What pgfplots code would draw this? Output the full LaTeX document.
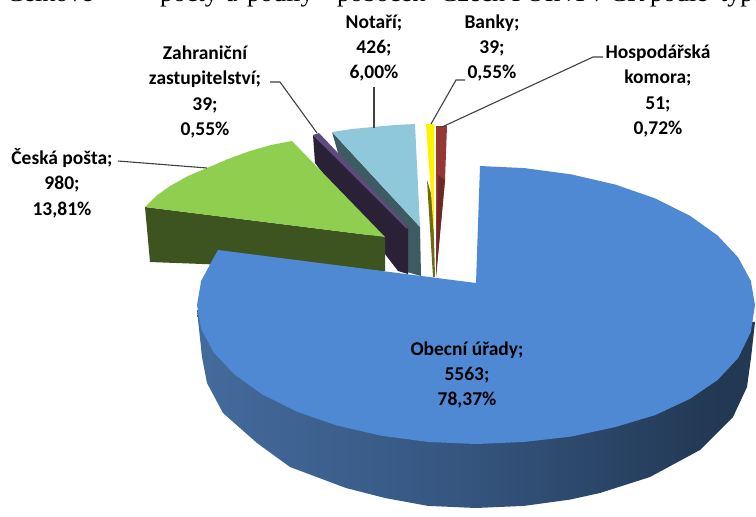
\documentclass[border=0pt]{standalone}
\usepackage{pgfplots}
\pgfplotsset{compat=1.18}
\usepackage{fontspec}
\setmainfont{Carlito}
\newfontfamily\timesf{Liberation Serif}
\definecolor{bluetop}{HTML}{5089D3}
\definecolor{greentop}{HTML}{90CE50}
\definecolor{greenwall}{HTML}{3E5420}
\definecolor{tealtop}{HTML}{8FC8DB}
\definecolor{tealwall}{HTML}{3E5A62}
\definecolor{purptop}{HTML}{5F4A7C}
\definecolor{purpwall}{HTML}{2A2136}
\definecolor{redtop}{HTML}{953735}
\definecolor{redwall}{HTML}{6C2826}
\definecolor{olive}{HTML}{6E6A12}
\definecolor{lead}{HTML}{404040}
\definecolor{bw1}{HTML}{4F80BA}
\definecolor{bw2}{HTML}{43699A}
\definecolor{bw2b}{HTML}{35557F}
\definecolor{bw3}{HTML}{223853}
\pgfdeclarehorizontalshading{bluewall}{100bp}{
  color(0bp)=(bw1);
  color(27bp)=(bw2);
  color(49bp)=(bw2b);
  color(72bp)=(bw3);
  color(100bp)=(bw3)}
\tikzset{
  lab/.style={font=\bfseries\fontsize{19.5}{25.3}\selectfont, align=center, text=black, inner sep=0pt},
  capt/.style={anchor=base west, inner sep=0pt, font=\timesf\fontsize{26}{26}\selectfont},
}
\begin{document}
\begin{tikzpicture}
\clip (0,0) rectangle (756pt,517pt);
\begin{axis}[
  scale only axis, width=756pt, height=517pt,
  xmin=0, xmax=756, ymin=0, ymax=517, y dir=reverse,
  axis lines=none, clip=false,
]
% Notari
\addplot[draw=none, no marks, forget plot, fill=tealwall] coordinates {(332,132)(420,227)(421,276)(400,270)(340,160)};
\addplot[draw=none, no marks, forget plot, fill=tealtop] coordinates {(332,132)(352,129)(373,127)(395,125)(415,124)(420,227)};
% Zahranicni zastupitelstvi
\addplot[draw=none, no marks, forget plot, fill=purpwall] coordinates {(313,135)(408,227)(408,274)(398,271)(315,163)};
\addplot[draw=none, no marks, forget plot, fill=purptop] coordinates {(313,135)(319,133)(408,227)(407,229)};
% Ceska posta
\addplot[draw=none, no marks, forget plot, fill=greenwall] coordinates {(145,207)(150,262)(385,271)(385,237)};
\addplot[draw=none, no marks, forget plot, fill=greentop] coordinates {(145,207)(156,196)(170,186)(188,176)(207,168)(228,159)(250,151)(271,145)(292,141)(385,237)};
% Banky
\addplot[draw=none, no marks, forget plot, fill=olive] coordinates {(427,180)(433,200)(435,277)(433,277)};
\addplot[draw=none, no marks, forget plot, fill=yellow] coordinates {(426,124)(434.5,124)(434,235)};
% Hospodarska komora
\addplot[draw=none, no marks, forget plot, fill=redtop] coordinates {(436,126)(447,126)(445,180)(436,277)};
\addplot[draw=none, no marks, forget plot, fill=redwall] coordinates {(438,175)(445,180)(436,277)};
% Obecni urady
\addplot[draw=none, no marks, forget plot, shading=bluewall, shading angle=0] coordinates {
 (197,310)(202,357)(207,383)(223,413)(257,443)(290,467)(346,488)(385,498)(428,505.9)(476,508)
 (524,505.9)(570,499.6)(600,493)(650,477)(700,450)(733,417)(747,387)(751,358)(755,322)};
\addplot[draw=none, no marks, forget plot, fill=bluetop] coordinates {
 (476,283)(480,166)(524.5,168.1)(571.4,174.4)(615.5,184.6)(655.4,198.5)(689.7,215.6)(717.6,235.5)(738.2,257.5)(750.8,280.8)(755,305)
 (750.8,332)(738.2,358)(717.6,380)(689.7,399)(655.4,415)(615.5,427)(571.4,436.5)(524.5,441.9)(476,444)
 (427.5,441.9)(380.6,435.6)(336.5,425.4)(296.6,411.5)(262.3,394.4)(234.4,374.5)(213.8,352.5)(201.2,329.2)(197,305)(201.2,280.8)(213.8,257.5)(218,250)};
% leaders
\addplot[draw=lead, line width=1.1pt, no marks, forget plot] coordinates {(118,161)(207,168)};
\addplot[draw=lead, line width=1.1pt, no marks, forget plot] coordinates {(270,82)(280,82)(317,133)};
\addplot[draw=lead, line width=1.1pt, no marks, forget plot] coordinates {(374,87)(374,128)};
\addplot[draw=lead, line width=1.1pt, no marks, forget plot] coordinates {(465,80)(456,80)(431,124)};
\addplot[draw=lead, line width=1.1pt, no marks, forget plot] coordinates {(603,57)(593,57)(442,127)};
% labels
\node[lab, anchor=center] at (axis cs:374,48) {Notaří;\\426;\\6,00\%};
\node[lab, anchor=center] at (axis cs:492,48) {Banky;\\39;\\0,55\%};
\node[lab, anchor=center] at (axis cs:205,92) {Zahraniční\\zastupitelství;\\39;\\0,55\%};
\node[lab, anchor=center] at (axis cs:658,91) {Hospodářská\\komora;\\51;\\0,72\%};
\node[lab, anchor=center] at (axis cs:62,183) {Česká pošta;\\980;\\13,81\%};
\node[lab, anchor=center] at (axis cs:467,375) {Obecní úřady;\\5563;\\78,37\%};
% clipped caption line at the very top
\node[capt] at (axis cs:6,1) {Celkové};
\node[capt, anchor=base east] at (axis cs:218,1) {počty};
\node[capt] at (axis cs:226,1) {a};
\node[capt] at (axis cs:247,1) {podíly};
\node[capt] at (axis cs:337,1) {poboček};
\node[capt] at (axis cs:440,1) {Czech POINT};
\node[capt] at (axis cs:590,1) {v ČR};
\node[capt] at (axis cs:650,1) {podle};
\node[capt] at (axis cs:720,1) {typu};
\end{axis}
\end{tikzpicture}
\end{document}
